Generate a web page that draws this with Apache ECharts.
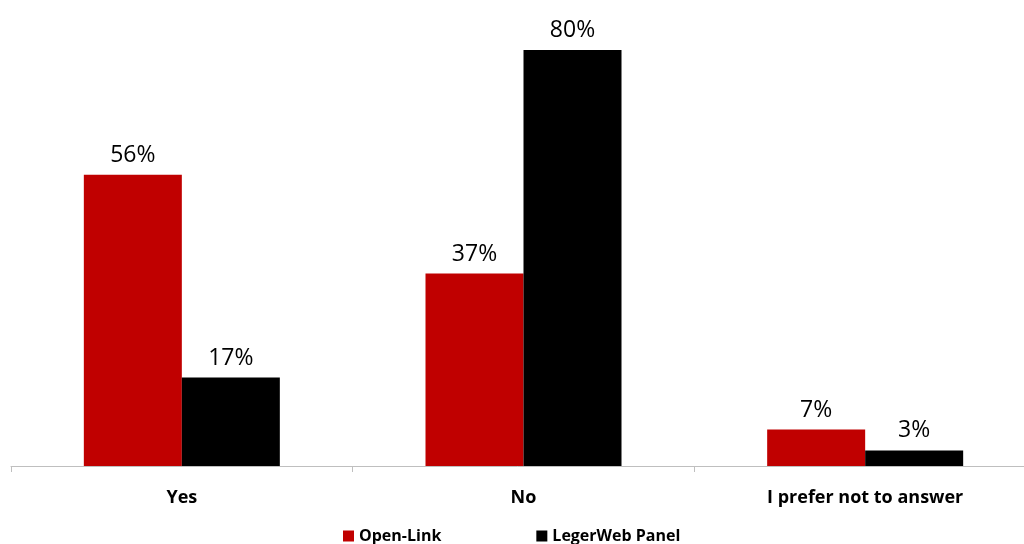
<!DOCTYPE html>
<html>
<head>
<meta charset="utf-8">
<script src="https://cdn.jsdelivr.net/npm/echarts@6/dist/echarts.min.js"></script>
<style>html,body{margin:0;padding:0;background:#fff}#c{width:1024px;height:544px}</style>
</head>
<body>
<div id="c"></div>
<script>
const categories = ["Yes", "No", "I prefer not to answer"];
const seriesNames = ["Open-Link", "LegerWeb Panel"];
const openLink = [56, 37, 7];
const legerWeb = [17, 80, 3];

const chart = echarts.init(document.getElementById('c'), null, {renderer: 'canvas'});
const labelCfg = {
  show: true, position: 'top', distance: 8,
  formatter: p => p.value + '%',
  fontFamily: 'Open Sans', fontSize: 23, color: '#000'
};
chart.setOption({
  animation: false,
  backgroundColor: '#fff',
  grid: {left: 11, top: 50, width: 1025, height: 416, containLabel: false, outerBoundsMode: 'none'},
  legend: {
    data: seriesNames, top: 523, left: 338, itemGap: 95,
    itemWidth: 11, itemHeight: 11, icon: 'rect',
    textStyle: {fontFamily: 'Open Sans', fontWeight: 'bold', fontSize: 16, color: '#000'}
  },
  xAxis: {
    type: 'category', data: categories,
    axisLine: {lineStyle: {color: '#bfbfbf', width: 1}},
    axisTick: {show: true, length: 6, lineStyle: {color: '#bfbfbf'}},
    axisLabel: {fontFamily: 'Open Sans', fontWeight: 'bold', fontSize: 18, color: '#000', margin: 23}
  },
  yAxis: {type: 'value', min: 0, max: 80, show: false, splitLine: {show: false}},
  series: [
    {name: seriesNames[0], type: 'bar', data: openLink, barWidth: 98, barGap: '0%',
     itemStyle: {color: '#C00000'}, label: labelCfg},
    {name: seriesNames[1], type: 'bar', data: legerWeb, barWidth: 98, barGap: '0%',
     itemStyle: {color: '#000000'}, label: labelCfg}
  ]
});
</script>
</body>
</html>
